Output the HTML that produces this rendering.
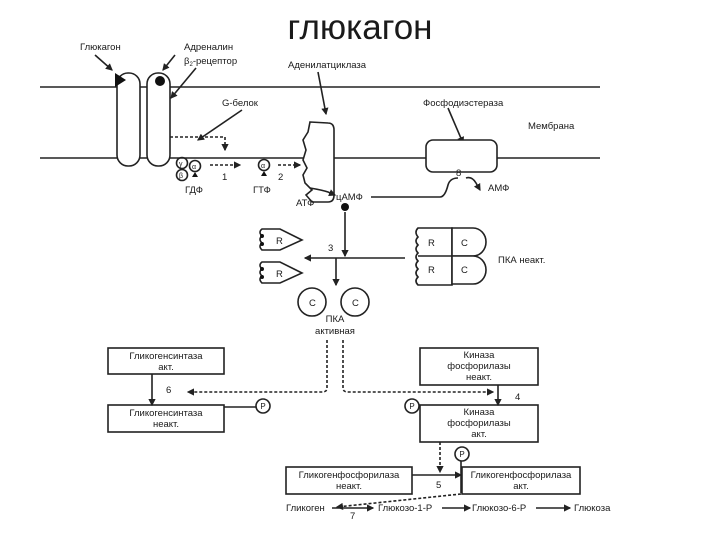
<!DOCTYPE html>
<html><head><meta charset="utf-8"><style>
html,body{margin:0;padding:0;background:#fff;}
svg{display:block;}
text{font-family:"Liberation Sans",sans-serif;fill:#1a1a1a;}
.s{font-size:9.5px;}
</style></head><body>
<svg width="720" height="540" viewBox="0 0 720 540" xmlns="http://www.w3.org/2000/svg">
<defs>
<marker id="a" viewBox="0 0 6 6" refX="5" refY="3" markerWidth="4.5" markerHeight="4.5" orient="auto"><path d="M0,0L6,3L0,6z" fill="#222"/></marker>
</defs>
<text x="360" y="39" font-size="35" text-anchor="middle" style="font-family:'Liberation Sans',sans-serif">глюкагон</text>
<g stroke="#222" fill="none" stroke-width="1.6">
<line x1="40" y1="87" x2="600" y2="87"/>
<line x1="40" y1="158" x2="600" y2="158"/>
<rect x="117" y="73" width="23" height="93" rx="11" fill="#fff"/>
<rect x="147" y="73" width="23" height="93" rx="11" fill="#fff"/>
<line x1="95" y1="55" x2="112" y2="70" marker-end="url(#a)"/>
<line x1="175" y1="55" x2="163" y2="70" marker-end="url(#a)"/>
<line x1="196" y1="68" x2="171" y2="98" marker-end="url(#a)"/>
<line x1="242" y1="110" x2="198" y2="140" marker-end="url(#a)"/>
<line x1="318" y1="72" x2="326" y2="114" marker-end="url(#a)"/>
<line x1="448" y1="108" x2="463" y2="143" marker-end="url(#a)"/>
<path d="M170,137 H225 V150" stroke-dasharray="3,2" marker-end="url(#a)"/>
<line x1="210" y1="165" x2="240" y2="165" stroke-dasharray="3,2" marker-end="url(#a)"/>
<line x1="278" y1="165" x2="300" y2="165" stroke-dasharray="3,2" marker-end="url(#a)"/>
<circle cx="182" cy="163" r="5.5"/><circle cx="195" cy="166" r="5.5"/><circle cx="182" cy="175" r="5.5"/>
<circle cx="264" cy="165" r="5.5"/>
<path d="M310,122 L328,123 Q334,123 334,130 L334,195 Q334,202 328,202 L312,202 L306,195 L312,190 L305,183 L303,175 L307,168 L303,160 L306,150 L303,140 L308,132 Z" fill="#fff"/>
<path d="M310,188 Q322,190 328,192 L335,195" marker-end="url(#a)"/>
<path d="M371,197 L440,197 Q445,197 448,185 Q450,178 458,178" />
<rect x="426" y="140" width="71" height="32" rx="7" fill="#fff"/>
<path d="M466,178 Q472,176 476,183 L480,190" marker-end="url(#a)"/>
<line x1="345" y1="212" x2="345" y2="256" marker-end="url(#a)"/>
<line x1="405" y1="258" x2="305" y2="258" marker-end="url(#a)"/>
<line x1="336" y1="258" x2="336" y2="285" marker-end="url(#a)"/>
<path d="M262,229 L280,229 L302,240 L280,250 L262,250 Q258,246 262,243 Q258,239 262,236 Q258,232 262,229Z" fill="#fff"/>
<path d="M262,262 L280,262 L302,273 L280,283 L262,283 Q258,279 262,276 Q258,272 262,269 Q258,265 262,262Z" fill="#fff"/>
<path d="M418,228 L452,228 L452,285 L418,285 Q414,281 418,277 Q414,273 418,269 Q414,265 418,261 Q414,257 418,253 Q414,249 418,245 Q414,241 418,237 Q414,232 418,228Z" fill="#fff"/>
<line x1="418" y1="256" x2="452" y2="256"/>
<path d="M452,228 H473 A13,14 0 0 1 473,256 H452 Z" fill="#fff"/>
<path d="M452,256 H473 A13,14 0 0 1 473,284 H452 Z" fill="#fff"/>
<circle cx="312" cy="302" r="14"/><circle cx="355" cy="302" r="14"/>
<path d="M327,340 V388 Q327,392 322,392 H188" stroke-dasharray="3,2" marker-end="url(#a)"/>
<path d="M343,340 V388 Q343,392 348,392 H493" stroke-dasharray="3,2" marker-end="url(#a)"/>
<rect x="108" y="348" width="116" height="26"/>
<rect x="108" y="405" width="116" height="27"/>
<line x1="152" y1="374" x2="152" y2="405" marker-end="url(#a)"/>
<line x1="224" y1="407" x2="256" y2="407"/>
<circle cx="263" cy="406" r="7"/>
<rect x="420" y="348" width="118" height="37"/>
<rect x="420" y="405" width="118" height="37"/>
<line x1="498" y1="385" x2="498" y2="405" marker-end="url(#a)"/>
<line x1="420" y1="406" x2="420" y2="406"/>
<circle cx="412" cy="406" r="7"/>
<rect x="286" y="467" width="126" height="27"/>
<rect x="462" y="467" width="118" height="27"/>
<line x1="412" y1="475" x2="461" y2="475" marker-end="url(#a)"/>
<line x1="440" y1="442" x2="440" y2="472" stroke-dasharray="3,2" marker-end="url(#a)"/>
<line x1="461" y1="461" x2="461" y2="493"/>
<circle cx="462" cy="454" r="7"/>
<line x1="461" y1="494" x2="337" y2="507" stroke-dasharray="3,2" marker-end="url(#a)"/>
<line x1="332" y1="508" x2="373" y2="508" marker-end="url(#a)"/>
<line x1="442" y1="508" x2="470" y2="508" marker-end="url(#a)"/>
<line x1="536" y1="508" x2="570" y2="508" marker-end="url(#a)"/>
</g>
<path d="M115,73 L126,80 L115,87Z" fill="#111"/>
<circle cx="160" cy="81" r="5" fill="#111"/>
<circle cx="345" cy="207" r="4" fill="#111"/>
<path d="M195,172 l3,5 h-6z M264,171 l3,5 h-6z" fill="#111"/>
<g fill="#111"><circle cx="262" cy="236" r="2"/><circle cx="262" cy="244" r="2"/><circle cx="262" cy="269" r="2"/><circle cx="262" cy="277" r="2"/></g>
<g class="s">
<text x="80" y="50">Глюкагон</text>
<text x="184" y="50">Адреналин</text>
<text x="184" y="64">β<tspan font-size="6" dy="2">2</tspan><tspan dy="-2">-рецептор</tspan></text>
<text x="288" y="68">Аденилатциклаза</text>
<text x="222" y="106">G-белок</text>
<text x="423" y="106">Фосфодиэстераза</text>
<text x="528" y="129">Мембрана</text>
<text x="179" y="166" font-size="7">γ</text><text x="192" y="169" font-size="7">α</text><text x="179" y="178" font-size="7">β</text>
<text x="261" y="168" font-size="7">α</text>
<text x="222" y="180">1</text><text x="278" y="180">2</text>
<text x="185" y="193">ГДФ</text><text x="253" y="193">ГТФ</text>
<text x="296" y="206">АТФ</text><text x="336" y="200">цАМФ</text>
<text x="456" y="176">8</text><text x="488" y="191">АМФ</text>
<text x="328" y="251">3</text>
<text x="276" y="244">R</text><text x="276" y="277">R</text>
<text x="428" y="246">R</text><text x="428" y="273">R</text>
<text x="461" y="246">C</text><text x="461" y="273">C</text>
<text x="498" y="263">ПКА неакт.</text>
<text x="309" y="306">C</text><text x="352" y="306">C</text>
<text x="335" y="322" text-anchor="middle">ПКА</text>
<text x="335" y="334" text-anchor="middle">активная</text>
<g text-anchor="middle">
<text x="166" y="359">Гликогенсинтаза</text><text x="166" y="370">акт.</text>
<text x="166" y="416">Гликогенсинтаза</text><text x="166" y="427">неакт.</text>
<text x="479" y="358">Киназа</text><text x="479" y="369">фосфорилазы</text><text x="479" y="380">неакт.</text>
<text x="479" y="415">Киназа</text><text x="479" y="426">фосфорилазы</text><text x="479" y="437">акт.</text>
<text x="349" y="478">Гликогенфосфорилаза</text><text x="349" y="489">неакт.</text>
<text x="521" y="478">Гликогенфосфорилаза</text><text x="521" y="489">акт.</text>
<text x="263" y="409" font-size="8">P</text><text x="412" y="409" font-size="8">P</text><text x="462" y="457" font-size="8">P</text>
</g>
<text x="166" y="393">6</text><text x="515" y="400">4</text><text x="436" y="488">5</text>
<text x="286" y="511">Гликоген</text><text x="350" y="519">7</text>
<text x="378" y="511">Глюкозо-1-Р</text><text x="472" y="511">Глюкозо-6-Р</text><text x="574" y="511">Глюкоза</text>
</g>
</svg>
</body></html>
